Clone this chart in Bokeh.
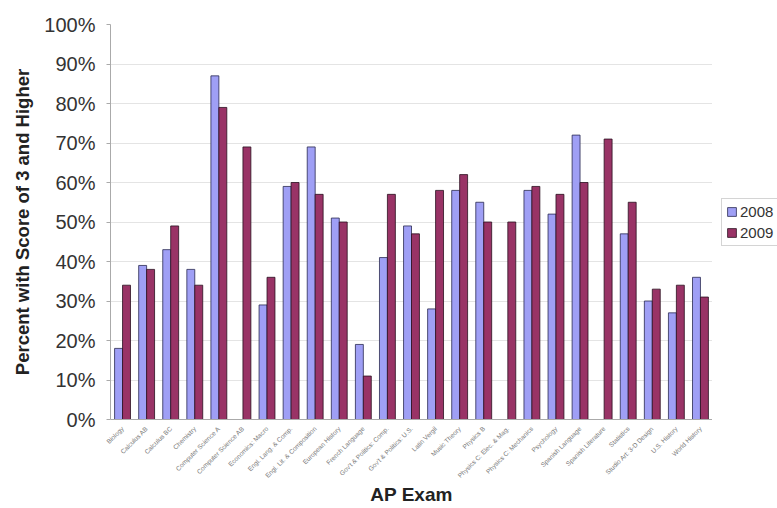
import numpy as np
from bokeh.plotting import figure
from bokeh.layouts import row
from bokeh.models import ColumnDataSource, Range1d, FactorRange, PrintfTickFormatter, Legend, LegendItem, FixedTicker
from bokeh.transform import dodge
from bokeh.embed import file_html
from bokeh.resources import INLINE

categories = ["Biology", "Calculus AB", "Calculus BC", "Chemistry", "Computer Science A",
              "Computer Science AB", "Economics: Macro", "Engl. Lang. & Comp.",
              "Engl. Lit. & Composition", "European History", "French Language",
              "Gov't & Politics: Comp.", "Gov't & Politics: U.S.", "Latin Vergil",
              "Music Theory", "Physics B", "Physics C: Elec. & Mag.", "Physics C: Mechanics",
              "Psychology", "Spanish Language", "Spanish Literature", "Statistics",
              "Studio Art: 3-D Design", "U.S. History", "World History"]
nan = np.nan
y2008 = [18, 39, 43, 38, 87, nan, 29, 59, 69, 51, 19, 41, 49, 28, 58, 55, nan, 58, 52, 72, nan, 47, 30, 27, 36]
y2009 = [34, 38, 49, 34, 79, 69, 36, 60, 57, 50, 11, 57, 47, 58, 62, 50, 50, 59, 57, 60, 71, 55, 33, 34, 31]
y_ticks = [0, 10, 20, 30, 40, 50, 60, 70, 80, 90, 100]
series = ["2008", "2009"]
colors = ["#9f9ff5", "#993366"]
edges = ["#2a2a50", "#2a1020"]

src = ColumnDataSource(dict(cat=categories, a=[float(v) for v in y2008], b=[float(v) for v in y2009]))

FONT = "Liberation Sans"
p = figure(width=712, height=508, x_range=FactorRange(*categories), y_range=Range1d(0, 100),
           output_backend="svg", toolbar_location=None,
           min_border_left=110, min_border_top=24, min_border_bottom=89, min_border_right=0)
p.background_fill_color = "white"
p.border_fill_color = "white"
p.outline_line_color = None

r1 = p.vbar(x=dodge("cat", -0.165, range=p.x_range), top="a", width=0.33, source=src,
            fill_color=colors[0], line_color=edges[0], line_width=0.8)
r2 = p.vbar(x=dodge("cat", 0.165, range=p.x_range), top="b", width=0.33, source=src,
            fill_color=colors[1], line_color=edges[1], line_width=0.8)

p.x_range.range_padding = 0
p.xgrid.grid_line_color = None
p.ygrid.grid_line_color = "#e4e4e4"
p.yaxis.ticker = FixedTicker(ticks=y_ticks)
p.yaxis.formatter = PrintfTickFormatter(format="%d%%")
p.yaxis.major_label_text_font = FONT
p.yaxis.major_label_text_font_size = "20px"
p.yaxis.major_label_text_color = "#333333"
p.yaxis.major_label_standoff = 11
p.yaxis.minor_tick_line_color = None
p.yaxis.major_tick_in = 0
p.yaxis.major_tick_out = 4
p.yaxis.major_tick_line_color = "#aaaaaa"
p.yaxis.axis_line_color = "#aaaaaa"
p.yaxis.axis_label = "Percent with Score of 3 and Higher"
p.yaxis.axis_label_text_font = FONT
p.yaxis.axis_label_text_font_size = "18.5px"
p.yaxis.axis_label_text_font_style = "bold"
p.yaxis.axis_label_text_color = "#222222"
p.yaxis.axis_label_standoff = 8

p.xaxis.major_label_orientation = np.pi / 4
p.xaxis.major_label_text_font = FONT
p.xaxis.major_label_text_font_size = "6.5px"
p.xaxis.major_label_text_color = "#777777"
p.xaxis.major_label_standoff = 2
p.xaxis.major_tick_line_color = None
p.xaxis.axis_line_color = "#aaaaaa"
p.xaxis.axis_label = "AP Exam"
p.xaxis.axis_label_text_font = FONT
p.xaxis.axis_label_text_font_size = "19px"
p.xaxis.axis_label_text_font_style = "bold"
p.xaxis.axis_label_text_color = "#222222"
p.xaxis.axis_label_standoff = 0

# legend panel: proxy bars use categorical x on a numeric range, so they map to nothing visible
lf = figure(width=65, height=508, output_backend="svg", toolbar_location=None,
            x_axis_type=None, y_axis_type=None, min_border=0,
            x_range=Range1d(0, 1), y_range=Range1d(0, 100))
lf.outline_line_color = None
lf.grid.grid_line_color = None
lf.background_fill_color = "white"
lf.border_fill_color = "white"
lr1 = lf.vbar(x="cat", top="a", width=0.3, source=src, fill_color=colors[0], line_color=edges[0], line_width=0.8)
lr2 = lf.vbar(x="cat", top="b", width=0.3, source=src, fill_color=colors[1], line_color=edges[1], line_width=0.8)

legend = Legend(items=[LegendItem(label=series[0], renderers=[lr1]), LegendItem(label=series[1], renderers=[lr2])],
                location="left")
legend.label_text_font = FONT
legend.label_text_font_size = "15px"
legend.label_text_color = "#333333"
legend.glyph_width = 11
legend.glyph_height = 11
legend.spacing = 4
legend.padding = 4
legend.margin = 9
legend.border_line_color = "#aaaaaa"
legend.label_standoff = 3
lf.add_layout(legend, "center")

layout = row(p, lf)
open("out.html", "w").write(file_html(layout, INLINE))
